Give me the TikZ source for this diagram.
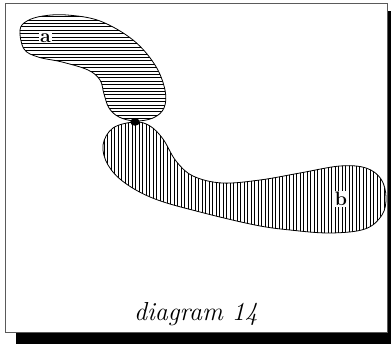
\documentclass[tikz,border=0pt]{standalone}
\usepackage{tikz}
\usepackage{xcolor}
\usetikzlibrary{positioning, calc, shapes.geometric}
\definecolor{framecolor}{RGB}{90,90,90}

% outlines of the two regions (picture units, y runs downwards)
\def\regionA{plot[smooth cycle, tension=0.6] coordinates {(20,30) (27,21) (43,16) (67,15) (100,21) (133,40) (155,65) (165,90) (164,108) (153,118) (135,121) (119,117) (109,108) (104,94) (100,80) (88,70) (62,62) (38,57) (24,49)}}
\def\regionB{plot[smooth cycle, tension=0.6] coordinates {(135,122) (150,126) (163,139) (176,161) (193,176) (222,183) (260,180) (300,173) (340,166) (366,168) (381,179) (386,197) (382,215) (365,229) (330,233) (290,230) (255,225) (200,212) (155,199) (125,183) (108,165) (103,145) (113,128)}}

\begin{document}
\begin{tikzpicture}[x=1pt, y=-1pt,
    region/.style={draw, black, line width=0.8pt},
    hatch/.style={black, line width=0.45pt},
    tag/.style={font=\fontsize{19.5}{22}\selectfont\bfseries, fill=white, inner sep=1pt},
    caption/.style={font=\fontsize{26}{30}\selectfont\itshape, anchor=base}]
    \useasboundingbox (0,0) rectangle (391,344);

    % frame with its shadow
    \fill[black] (16,11) rectangle (391,344);
    \draw[framecolor, fill=white, line width=0.9pt] (5,3) rectangle (387,332);

    % region a, horizontal hatching
    \begin{scope}
        \clip \regionA;
        \foreach \y in {13,16.4,...,125} \draw[hatch] (15,\y) -- (170,\y);
    \end{scope}
    \draw[region] \regionA;

    % region b, vertical hatching
    \begin{scope}
        \clip \regionB;
        \foreach \x in {104,107.5,...,390} \draw[hatch] (\x,118) -- (\x,236);
    \end{scope}
    \draw[region] \regionB;

    \node[ellipse, fill=black, inner sep=0pt, minimum width=9.5pt, minimum height=7.5pt] (contact) at (135,122) {};
    \node[tag] (taga) at (45.5,38) {a};
    \node[tag] (tagb) at (341,199) {b};
    \node[caption] (title) at (196,321) {diagram 14};
\end{tikzpicture}
\end{document}
